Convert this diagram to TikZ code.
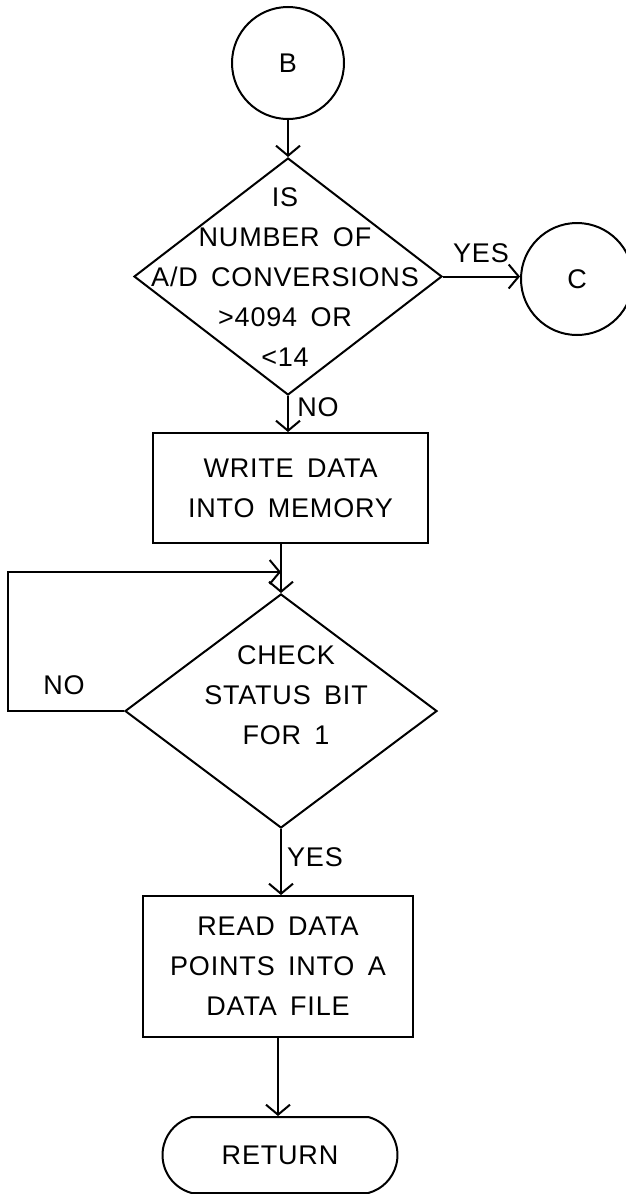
\documentclass[tikz,border=0pt]{standalone}
\usepackage{fontspec}
\setmainfont{Liberation Sans}[LetterSpace=3,WordSpace=1.6]
\usetikzlibrary{arrows.meta,shapes.geometric,shapes.misc}
\begin{document}
\begin{tikzpicture}[x=1pt,y=-1pt,
  line width=2pt,
  every node/.style={font=\fontsize{27}{40}\selectfont},
  arr/.style={-{Straight Barb[length=10pt,width=24pt,line width=2pt]}},
  conn/.style={draw,circle,minimum size=112pt,inner sep=0pt},
  proc/.style={draw,rectangle,align=center,inner sep=0pt},
  decide/.style={draw,diamond,inner sep=0pt},
  term/.style={draw,rounded rectangle,rounded rectangle arc length=150,inner sep=0pt},
  txt/.style={align=center,inner sep=0pt},
  lbl/.style={inner sep=0pt}]
\useasboundingbox (0,0) rectangle (626,1194);

% connectors
\node[conn] (B) at (288,63) {B};
\node[conn] (C) at (577,279) {C};

% first decision
\node[decide,minimum width=308pt,minimum height=237pt] (d1) at (288,276.5) {};
\node[txt] (d1t) at (285,277) {IS\\NUMBER OF\\A/D CONVERSIONS\\>4094 OR\\<14};

% write block
\node[proc,minimum width=275pt,minimum height=110pt] (w) at (290.5,488) {WRITE DATA\\INTO MEMORY};

% status poll
\node[decide,minimum width=312pt,minimum height=234pt] (d2) at (281,711) {};
\node[txt] (d2t) at (286,695) {CHECK\\STATUS BIT\\FOR 1};

% read block
\node[proc,minimum width=270pt,minimum height=141pt] (r) at (278,966.5) {READ DATA\\POINTS INTO A\\DATA FILE};

% end
\node[term,minimum width=235pt,minimum height=76pt] (ret) at (280,1155) {RETURN};

% loop corners
\coordinate (lx) at (8,0);
\coordinate (join) at (281,572);

% flow
\draw[arr] (B) -- (d1.north);
\draw[arr] (d1.east) -- (d1.east -| C.west);
\draw[arr] (d1.south) -- (d1.south |- w.north);
\draw[arr] (w.south -| d2.north) -- (d2.north);
\draw[arr] (d2.west) -- (d2.west -| lx) |- (join);
\draw[arr] (d2.south) -- (d2.south |- r.north);
\draw[arr] (r.south) -- (r.south |- ret.north);

% branch labels
\node[lbl] (yes1) at (481,253) {YES};
\node[lbl] (no1) at (318,407) {NO};
\node[lbl] (no2) at (64,685) {NO};
\node[lbl] (yes2) at (315,857) {YES};
\end{tikzpicture}
\end{document}
